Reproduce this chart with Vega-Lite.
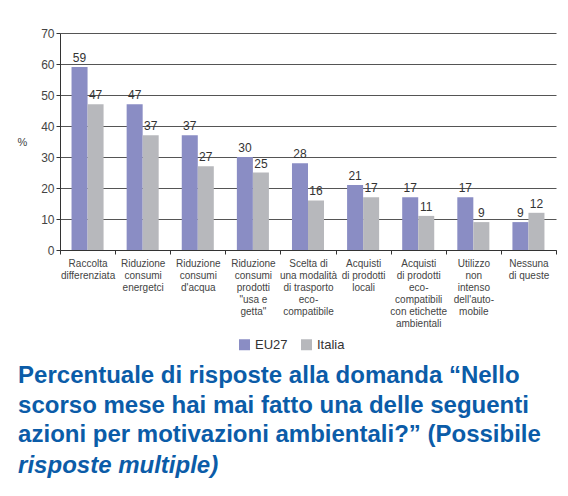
{
  "$schema": "https://vega.github.io/schema/vega-lite/v6.json",
  "width": 496,
  "height": 217,
  "autosize": "none",
  "padding": {"left": 60, "top": 33, "right": 12, "bottom": 246},
  "background": "white",
  "config": {
    "font": "Liberation Sans",
    "view": {"stroke": null}
  },
  "title": {
    "text": ["Percentuale  di risposte alla domanda “Nello", "scorso  mese hai mai fatto una delle seguenti", "azioni per motivazioni ambientali?”  (Possibile"],
    "subtitle": "risposte  multiple)",
    "orient": "bottom",
    "anchor": "start",
    "dx": 1,
    "offset": 12,
    "font": "Liberation Sans",
    "fontSize": 24,
    "fontWeight": "bold",
    "color": "#0b5ca8",
    "lineHeight": 29.5,
    "subtitleFont": "Liberation Sans",
    "subtitleFontSize": 24,
    "subtitleFontWeight": "bold",
    "subtitleFontStyle": "italic",
    "subtitleColor": "#0b5ca8",
    "subtitleLineHeight": 29.5,
    "subtitlePadding": 7
  },
  "data": {
    "values": [
      {"cat": "Raccolta|differenziata", "serie": "EU27", "val": 59},
      {"cat": "Raccolta|differenziata", "serie": "Italia", "val": 47},
      {"cat": "Riduzione|consumi|energetci", "serie": "EU27", "val": 47},
      {"cat": "Riduzione|consumi|energetci", "serie": "Italia", "val": 37},
      {"cat": "Riduzione|consumi|d'acqua", "serie": "EU27", "val": 37},
      {"cat": "Riduzione|consumi|d'acqua", "serie": "Italia", "val": 27},
      {"cat": "Riduzione|consumi|prodotti|\"usa e|getta\"", "serie": "EU27", "val": 30},
      {"cat": "Riduzione|consumi|prodotti|\"usa e|getta\"", "serie": "Italia", "val": 25},
      {"cat": "Scelta di|una modalità|di trasporto|eco-|compatibile", "serie": "EU27", "val": 28},
      {"cat": "Scelta di|una modalità|di trasporto|eco-|compatibile", "serie": "Italia", "val": 16},
      {"cat": "Acquisti|di prodotti|locali", "serie": "EU27", "val": 21},
      {"cat": "Acquisti|di prodotti|locali", "serie": "Italia", "val": 17},
      {"cat": "Acquisti|di prodotti|eco-|compatibili|con etichette|ambientali", "serie": "EU27", "val": 17},
      {"cat": "Acquisti|di prodotti|eco-|compatibili|con etichette|ambientali", "serie": "Italia", "val": 11},
      {"cat": "Utilizzo|non|intenso|dell'auto-|mobile", "serie": "EU27", "val": 17},
      {"cat": "Utilizzo|non|intenso|dell'auto-|mobile", "serie": "Italia", "val": 9},
      {"cat": "Nessuna|di queste", "serie": "EU27", "val": 9},
      {"cat": "Nessuna|di queste", "serie": "Italia", "val": 12}
    ]
  },
  "encoding": {
    "x": {
      "field": "cat",
      "type": "nominal",
      "sort": null,
      "scale": {"paddingInner": 0, "paddingOuter": 0},
      "axis": {
        "title": null,
        "labelAngle": 0,
        "labelExpr": "split(datum.label, '|')",
        "labelFontSize": 10,
        "labelLineHeight": 12,
        "labelColor": "#444",
        "labelPadding": 4,
        "labelBaseline": "top",
        "tickBand": "extent",
        "tickSize": 4,
        "tickColor": "#333",
        "domainColor": "#333",
        "labelLimit": 0
      }
    },
    "xOffset": {
      "field": "serie",
      "type": "nominal",
      "scale": {"paddingOuter": 0.72, "paddingInner": 0}
    },
    "y": {
      "field": "val",
      "type": "quantitative",
      "scale": {"domain": [0, 70]},
      "axis": {
        "title": "%",
        "titleAngle": 0,
        "titleFontWeight": "normal",
        "titleFontSize": 11,
        "titleColor": "#444",
        "titleX": -38,
        "titleY": 114,
        "values": [0, 10, 20, 30, 40, 50, 60, 70],
        "labelFontSize": 12,
        "labelColor": "#444",
        "gridColor": "#555",
        "gridOpacity": 1,
        "domainColor": "#333",
        "tickColor": "#333",
        "tickSize": 4,
        "labelPadding": 2
      }
    }
  },
  "layer": [
    {
      "mark": {"type": "bar"},
      "encoding": {
        "color": {
          "field": "serie",
          "type": "nominal",
          "scale": {"domain": ["EU27", "Italia"], "range": ["#8a8dc4", "#b7b8bc"]},
          "legend": {
            "orient": "none",
            "legendX": 178,
            "legendY": 305,
            "direction": "horizontal",
            "title": null,
            "symbolType": "square",
            "symbolSize": 121,
            "symbolStrokeWidth": 0,
            "labelFontSize": 13,
            "labelColor": "#333",
            "labelOffset": 4,
            "columnPadding": 12
          }
        }
      }
    },
    {
      "mark": {"type": "text", "baseline": "bottom", "dy": -2, "fontSize": 12, "color": "#333"},
      "encoding": {
        "text": {"field": "val", "type": "quantitative"}
      }
    }
  ]
}
